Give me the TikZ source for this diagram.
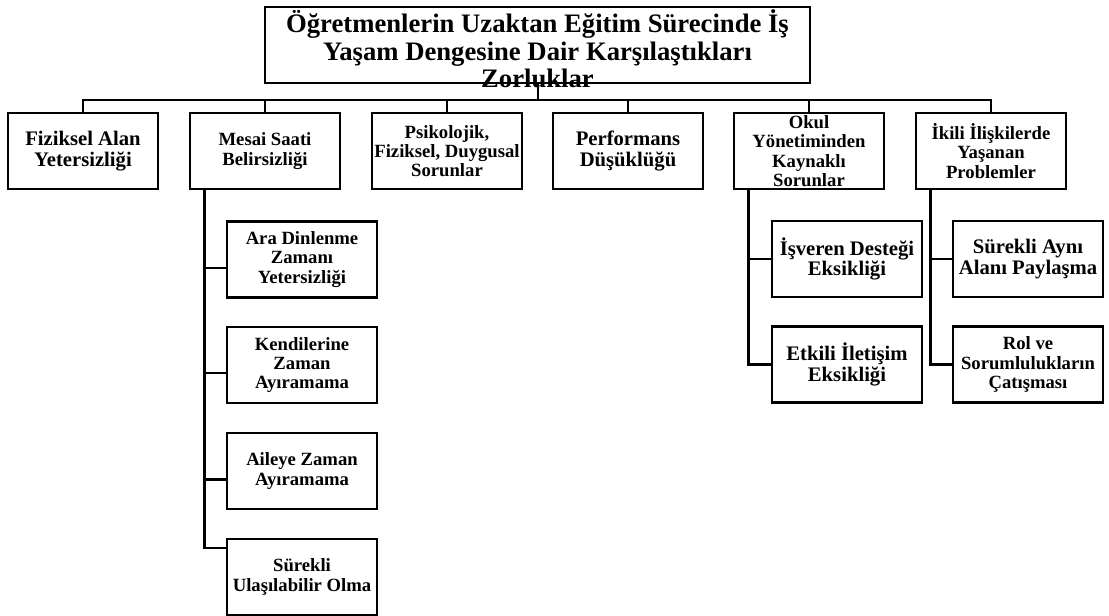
\documentclass[tikz,border=0pt]{standalone}
\usepackage{fontspec}
\setmainfont{Liberation Serif}
\usetikzlibrary{positioning}

\begin{document}
\begin{tikzpicture}[x=0.75pt,y=-0.75pt,
  box/.style={draw,line width=1.9pt,minimum width=112.5pt,minimum height=57pt,inner sep=0pt,align=center,font=\bfseries\fontsize{14}{14.5}\selectfont},
  bigbox/.style={box,font=\bfseries\fontsize{15.5}{15.5}\selectfont},
  link/.style={line width=1.5pt},
  trunk/.style={line width=2.2pt}]
\useasboundingbox (0,0) rectangle (1109,616);
\node [draw,line width=1.9pt,minimum width=408.75pt,minimum height=57pt] (top) at (537.5,45) {};
\node [align=center,font=\bfseries\fontsize{20}{20.5}\selectfont] (toptext) at (537.5,49) {Öğretmenlerin Uzaktan Eğitim Sürecinde İş\\Yaşam Dengesine Dair Karşılaştıkları\\Zorluklar};

\node [bigbox] (alan) at (83,151) {Fiziksel Alan\\Yetersizliği};
\node [box] (mesai) at (265,151) {Mesai Saati\\Belirsizliği};
\node [box] (psiko) at (447,151) {Psikolojik,\\Fiziksel, Duygusal\\Sorunlar};
\node [bigbox] (perf) at (628,151) {Performans\\Düşüklüğü};
\node [box] (okul) at (809,151) {Okul\\Yönetiminden\\Kaynaklı\\Sorunlar};
\node [box] (ikili) at (991,151) {İkili İlişkilerde\\Yaşanan\\Problemler};
\foreach \n in {alan,mesai,psiko,perf,okul,ikili}
  \draw [link] (top.south) -- ++(0,16) -| (\n.north);

\node [box] (ara) at (302,259.5) {Ara Dinlenme\\Zamanı\\Yetersizliği};
\node [box] (kendi) at (302,365) {Kendilerine\\Zaman\\Ayıramama};
\node [box] (aile) at (302,471) {Aileye Zaman\\Ayıramama};
\node [box] (ulas) at (302,577) {Sürekli\\Ulaşılabilir Olma};
\draw [trunk] (mesai.south west) ++(16,0) |- ([yshift=-6.4pt]ara.west);
\draw [trunk] (mesai.south west) ++(16,0) |- ([yshift=-6pt]kendi.west);
\draw [trunk] (mesai.south west) ++(16,0) |- ([yshift=-6.4pt]aile.west);
\draw [trunk] (mesai.south west) ++(16,0) |- ([yshift=21.75pt]ulas.west);

\node [bigbox] (isveren) at (847,259) {İşveren Desteği\\Eksikliği};
\node [bigbox] (iletisim) at (847,364.5) {Etkili İletişim\\Eksikliği};
\draw [trunk] (okul.south west) ++(16,0) |- (isveren.west);
\draw [trunk] (okul.south west) ++(16,0) |- (iletisim.west);

\node [bigbox] (paylas) at (1028,259) {Sürekli Aynı\\Alanı Paylaşma};
\node [box] (rol) at (1028,364.5) {Rol ve\\Sorumlulukların\\Çatışması};
\draw [trunk] (ikili.south west) ++(16,0) |- (paylas.west);
\draw [trunk] (ikili.south west) ++(16,0) |- (rol.west);
\end{tikzpicture}
\end{document}
